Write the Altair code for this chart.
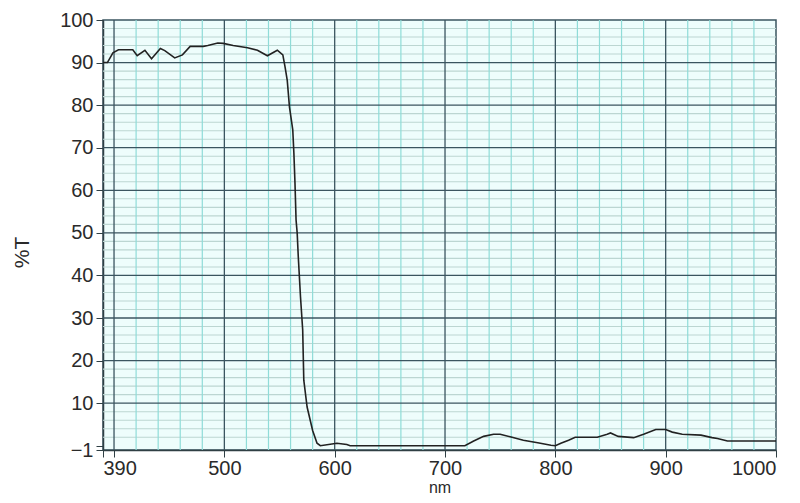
import altair as alt
import pandas as pd

# transmission curve
wavelength = [390, 394, 399, 404, 417, 421, 428, 434, 442, 446, 455, 462, 469, 481,
              485, 494, 499, 508, 521, 530, 539, 548, 553, 555, 557, 559, 562, 563,
              564, 565, 566, 567, 569, 571, 572, 575, 580, 584, 587, 602, 611, 614,
              718, 726, 735, 744, 750, 759, 771, 784, 796, 800, 805, 812, 818, 838,
              847, 850, 857, 871, 880, 891, 900, 906, 915, 932, 942, 947, 956, 1000]
transmission = [90.0, 90.0, 92.3, 93.0, 93.0, 91.6, 92.9, 90.9, 93.3, 92.8, 91.1, 91.8,
                93.8, 93.8, 94.0, 94.6, 94.5, 94.0, 93.5, 92.9, 91.6, 92.9, 91.8, 89.0,
                85.8, 79.6, 74.2, 68.8, 61.8, 53.0, 50.0, 44.4, 35.0, 27.2, 15.4, 9.1,
                3.6, 0.6, 0.0, 0.6, 0.3, 0.0, 0.0, 1.1, 2.2, 2.7, 2.7, 2.1, 1.3, 0.7,
                0.1, 0.0, 0.6, 1.3, 2.0, 2.0, 2.7, 3.0, 2.2, 1.9, 2.7, 3.8, 3.8, 3.2,
                2.7, 2.5, 1.9, 1.7, 1.1, 1.1]

x_ticks = [390, 400, 500, 600, 700, 800, 900, 1000]
y_ticks = [-1, 0, 10, 20, 30, 40, 50, 60, 70, 80, 90, 100]

x_major = [400, 500, 600, 700, 800, 900]
y_major = [10, 20, 30, 40, 50, 60, 70, 80, 90]
x_minor = [v for v in range(420, 1000, 20) if v % 100 != 0]
y_minor = [v for v in range(0, 100, 2) if v % 10 != 0]

curve = pd.DataFrame({"nm": wavelength, "T": transmission})

xs = alt.Scale(domain=[390, 1000], nice=False, zero=False)
ys = alt.Scale(domain=[-1, 100], nice=False, zero=False)

# same axis spec on every layer so the merged axes keep it
x_axis = alt.Axis(values=x_ticks, grid=False, format="d", labelOverlap=False,
                  labelExpr="datum.value == 400 ? '' : datum.label",
                  labelPadding=1, titleFontSize=16,
                  titleY=42, titleBaseline="alphabetic")
y_axis = alt.Axis(values=y_ticks, grid=False, format="d", labelOverlap=False,
                  labelExpr="datum.value == 0 ? '' : datum.label",
                  titleX=-81, titleY=232, titleAngle=270,
                  titleAlign="center", titleBaseline="middle")

X = alt.X("nm:Q", scale=xs, title="nm", axis=x_axis)
Y = alt.Y("T:Q", scale=ys, title="%T", axis=y_axis)

vminor = alt.Chart(pd.DataFrame({"nm": x_minor})).mark_rule(
    color="#8fdcd8", strokeWidth=1.2
).encode(x=X)

hminor = alt.Chart(pd.DataFrame({"T": y_minor})).mark_rule(
    color="#bcd6d2", strokeWidth=1.1
).encode(y=Y)

vmajor = alt.Chart(pd.DataFrame({"nm": x_major})).mark_rule(
    color="#3b5560", strokeWidth=1.3
).encode(x=X)

hmajor = alt.Chart(pd.DataFrame({"T": y_major})).mark_rule(
    color="#3b5560", strokeWidth=1.3
).encode(y=Y)

line = alt.Chart(curve).mark_line(color="#222222", strokeWidth=1.6).encode(x=X, y=Y)

chart = alt.layer(hminor, vminor, hmajor, vmajor, line).properties(
    width=673, height=430,
    autosize=alt.AutoSizeParams(type="none"),
    padding={"left": 95, "top": 12, "right": 16, "bottom": 45},
).configure_view(
    fill="#eefdfc", stroke="#3b5560", strokeWidth=1.5
).configure_axis(
    domainColor="#2f3f44", domainWidth=1.5,
    tickColor="#2f3f44", tickSize=7,
    labelFont="Liberation Sans", labelFontSize=20, labelColor="#2a2a2a",
    labelPadding=3,
    titleFont="Liberation Sans", titleFontSize=21, titleFontWeight="normal",
    titleColor="#2a2a2a",
)

chart.save("out.html", embed_options={"renderer": "svg", "actions": False})
